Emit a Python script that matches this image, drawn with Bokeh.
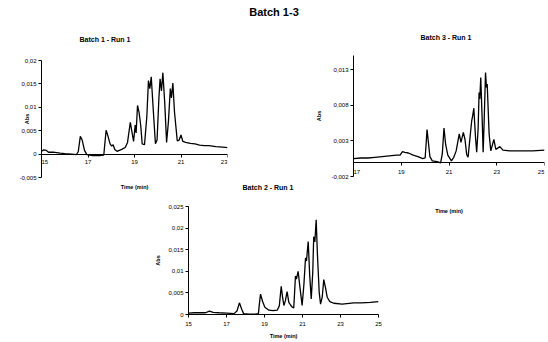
from bokeh.plotting import figure
from bokeh.layouts import column, row
from bokeh.models import Div, Spacer, LinearAxis, FixedTicker, Range1d, LabelSet, ColumnDataSource
from bokeh.core.properties import value
from bokeh.embed import file_html
from bokeh.resources import INLINE

FONT = "Liberation Sans"

main_title = "Batch 1-3"

# ---- Batch 1 - Run 1 ----
b1_title = "Batch 1 - Run 1"
b1_time = [15.0, 15.1, 15.2, 15.3, 15.5, 15.8, 16.0, 16.3, 16.5, 16.58, 16.67, 16.75, 16.85, 16.95,
           17.2, 17.5, 17.68, 17.72, 17.78, 17.85, 17.95, 18.02, 18.08, 18.15, 18.25, 18.45, 18.6,
           18.7, 18.82, 18.9, 18.96, 19.03, 19.07, 19.13, 19.2, 19.27, 19.33, 19.43, 19.53, 19.6,
           19.66, 19.72, 19.8, 19.9, 19.97, 20.05, 20.1, 20.16, 20.22, 20.3, 20.38, 20.46, 20.54,
           20.59, 20.65, 20.72, 20.84, 20.92, 21.0, 21.08, 21.2, 21.4, 21.6, 21.8, 22.0, 22.2,
           22.5, 22.8, 23.0]
b1_abs = [0.0006, 0.0009, 0.0008, 0.0004, 0.0004, 0.0002, 0.0001, 0.0, -0.0001, 0.0005, 0.0038,
          0.0030, 0.0008, -0.0001, -0.0003, -0.0003, -0.0002, 0.0020, 0.0051, 0.0040, 0.0022,
          0.0017, 0.0020, 0.0010, 0.0006, 0.0010, 0.0014, 0.0025, 0.0068, 0.0045, 0.0027, 0.0062,
          0.0045, 0.0104, 0.0088, 0.0060, 0.0022, 0.0020, 0.0080, 0.0157, 0.0140, 0.0165, 0.0100,
          0.0022, 0.0030, 0.0120, 0.0161, 0.0135, 0.0174, 0.0110, 0.0025, 0.0070, 0.0140, 0.0120,
          0.0152, 0.0090, 0.0028, 0.0030, 0.0041, 0.0027, 0.0025, 0.0023, 0.0022, 0.0019, 0.0018,
          0.0018, 0.0016, 0.0015, 0.0014]
b1_xticks = [15, 17, 19, 21, 23]
b1_xlabels = ["15", "17", "19", "21", "23"]
b1_yticks = [-0.005, 0, 0.005, 0.01, 0.015, 0.02]
b1_ylabels = ["-0,005", "0", "0,005", "0,01", "0,015", "0,02"]

# ---- Batch 3 - Run 1 ----
b3_title = "Batch 3 - Run 1"
b3_time = [17.0, 17.3, 17.6, 17.9, 18.2, 18.5, 18.8, 18.95, 19.05, 19.15, 19.3, 19.5, 19.7, 19.9,
           20.0, 20.04, 20.08, 20.13, 20.2, 20.3, 20.5, 20.65, 20.72, 20.79, 20.86, 20.95, 21.1,
           21.2, 21.3, 21.43, 21.5, 21.6, 21.67, 21.74, 21.8, 21.88, 21.95, 21.99, 22.04, 22.11,
           22.16, 22.22, 22.26, 22.29, 22.33, 22.39, 22.43, 22.47, 22.53, 22.57, 22.6, 22.68,
           22.75, 22.88, 22.96, 23.13, 23.26, 23.54, 24.0, 24.5, 25.0]
b3_abs = [0.0005, 0.0006, 0.0006, 0.0007, 0.0008, 0.0009, 0.0010, 0.0010, 0.0015, 0.0014, 0.0013,
          0.0010, 0.0008, 0.0005, 0.0006, 0.0025, 0.0046, 0.0030, 0.0008, 0.0002, 0.0001, -0.0001,
          0.0012, 0.0048, 0.0025, 0.0010, 0.0002, 0.0007, 0.0016, 0.0040, 0.0028, 0.0042, 0.0032,
          0.0011, 0.0007, 0.0035, 0.0058, 0.0065, 0.0076, 0.0035, 0.0014, 0.0047, 0.0098, 0.0089,
          0.0119, 0.0060, 0.0014, 0.0055, 0.0126, 0.0105, 0.0110, 0.0040, 0.0016, 0.0032, 0.0018,
          0.0022, 0.0017, 0.0016, 0.0016, 0.0016, 0.0017]
b3_xticks = [17, 19, 21, 23, 25]
b3_xlabels = ["17", "19", "21", "23", "25"]
b3_yticks = [-0.002, 0.003, 0.008, 0.013]
b3_ylabels = ["-0,002", "0,003", "0,008", "0,013"]

# ---- Batch 2 - Run 1 ----
b2_title = "Batch 2 - Run 1"
b2_time = [15.0, 15.3, 15.6, 15.9, 16.1, 16.3, 16.6, 17.0, 17.4, 17.55, 17.68, 17.8, 17.9, 18.2,
           18.5, 18.68, 18.72, 18.79, 18.9, 19.02, 19.23, 19.45, 19.67, 19.78, 19.88, 19.95, 20.02,
           20.1, 20.19, 20.28, 20.37, 20.46, 20.54, 20.63, 20.68, 20.77, 20.86, 20.98, 21.07,
           21.16, 21.21, 21.3, 21.38, 21.46, 21.54, 21.59, 21.65, 21.72, 21.79, 21.88, 21.95,
           22.04, 22.12, 22.21, 22.3, 22.44, 22.65, 23.09, 23.7, 24.1, 24.58, 25.0]
b2_abs = [0.0003, 0.0004, 0.0004, 0.0004, 0.0008, 0.0005, 0.0004, 0.0003, 0.0002, 0.0008, 0.0027,
          0.0012, 0.0002, 0.0001, 0.0001, 0.0002, 0.0020, 0.0047, 0.0030, 0.0017, 0.0010, 0.0009,
          0.0010, 0.0020, 0.0065, 0.0040, 0.0021, 0.0032, 0.0053, 0.0028, 0.0022, 0.0017, 0.0015,
          0.0089, 0.0082, 0.0100, 0.0065, 0.0021, 0.0067, 0.0131, 0.0124, 0.0169, 0.0090, 0.0036,
          0.0098, 0.0180, 0.0168, 0.0219, 0.0135, 0.0051, 0.0024, 0.0041, 0.0081, 0.0062, 0.0040,
          0.0030, 0.0026, 0.0024, 0.0027, 0.0027, 0.0028, 0.0030]
b2_xticks = [15, 17, 19, 21, 23, 25]
b2_xlabels = ["15", "17", "19", "21", "23", "25"]
b2_yticks = [0, 0.005, 0.01, 0.015, 0.02, 0.025]
b2_ylabels = ["0", "0,005", "0,01", "0,015", "0,02", "0,025"]


def style_axis(ax):
    ax.axis_line_color = "black"
    ax.axis_line_width = 1
    ax.major_tick_line_color = "black"
    ax.major_tick_in = 0
    ax.major_tick_out = 3
    ax.minor_tick_line_color = None
    ax.major_label_text_font = FONT
    ax.major_label_text_font_size = "6px"
    ax.major_label_text_color = "black"
    ax.major_label_standoff = 2
    ax.axis_label_text_font = FONT
    ax.axis_label_text_font_size = "5.5px"
    ax.axis_label_text_font_style = "bold"
    ax.axis_label_text_color = "black"


def make_chart(title, t, a, xr, yr, xticks, xlabels, yticks, ylabels,
               w, h, mb, x_at_zero, title_standoff, title_offset,
               xlabel_standoff, ylabel_standoff, xtick_label_offset=-4, xtick_standoff=2):
    p = figure(width=w, height=h, x_range=Range1d(*xr), y_range=Range1d(*yr),
               output_backend="svg", toolbar_location=None,
               x_axis_location=None, y_axis_location="left",
               min_border_left=mb[0], min_border_right=mb[1],
               min_border_top=mb[2], min_border_bottom=mb[3],
               background_fill_color=None, border_fill_color=None,
               outline_line_color=None, frame_align=False)
    p.grid.visible = False
    p.title.text = title
    p.title.align = "left"
    p.title.offset = title_offset
    p.title.text_font = FONT
    p.title.text_font_size = "7px"
    p.title.text_font_style = "bold"
    p.title.text_color = "black"
    p.title.standoff = title_standoff

    ya = p.yaxis[0]
    ya.ticker = FixedTicker(ticks=yticks)
    ya.major_label_overrides = {k: v for k, v in zip(yticks, ylabels)}
    ya.axis_label = "Abs"
    style_axis(ya)
    ya.axis_label_standoff = ylabel_standoff

    if x_at_zero:
        lab = LinearAxis(ticker=FixedTicker(ticks=[]), axis_label="Time (min)")
        style_axis(lab)
        lab.axis_line_color = None
        lab.major_tick_line_color = None
        lab.axis_label_standoff = xlabel_standoff
        p.add_layout(lab, "below")
        xa = LinearAxis(ticker=FixedTicker(ticks=xticks), fixed_location=0)
        style_axis(xa)
        xa.major_label_text_color = None
        p.add_layout(xa, "below")
        n = len(xticks)
        aligns = ["left"] + ["center"] * (n - 2) + ["right"]
        src = ColumnDataSource(dict(x=xticks, y=[0] * n, text=xlabels, align=aligns))
        ls = LabelSet(x="x", y="y", text="text", source=src, text_align="align",
                      text_baseline="top", y_offset=xtick_label_offset,
                      text_font=value(FONT), text_font_size=value("6px"),
                      text_color="black")
        p.add_layout(ls)
    else:
        xa = LinearAxis(ticker=FixedTicker(ticks=xticks), axis_label="Time (min)")
        xa.major_label_overrides = {k: v for k, v in zip(xticks, xlabels)}
        style_axis(xa)
        xa.major_label_standoff = xtick_standoff
        xa.axis_label_standoff = xlabel_standoff
        p.add_layout(xa, "below")

    p.line(t, a, line_color="black", line_width=1.3)
    return p


p1 = make_chart(b1_title, b1_time, b1_abs, (15, 23), (-0.005, 0.02), b1_xticks, b1_xlabels,
                b1_yticks, b1_ylabels, w=227, h=216, mb=(33, 8, 60, 39), x_at_zero=True,
                title_standoff=36, title_offset=38, xlabel_standoff=6, ylabel_standoff=-14,
                xtick_label_offset=-6)
p3 = make_chart(b3_title, b3_time, b3_abs, (17, 25), (-0.002, 0.015), b3_xticks, b3_xlabels,
                b3_yticks, b3_ylabels, w=246, h=216, mb=(53, 2, 55, 40), x_at_zero=True,
                title_standoff=29, title_offset=67, xlabel_standoff=31, ylabel_standoff=6,
                xtick_label_offset=-8)
p2 = make_chart(b2_title, b2_time, b2_abs, (15, 25), (0, 0.025), b2_xticks, b2_xlabels,
                b2_yticks, b2_ylabels, w=245, h=184, mb=(38, 17, 49, 25), x_at_zero=False,
                title_standoff=32, title_offset=54, xlabel_standoff=4, ylabel_standoff=4,
                xtick_standoff=4)
p2.margin = (-59, 0, 0, 142)

head = Div(text='<div style="width:532px;text-align:center;font-family:\'Liberation Sans\';'
                'font-weight:bold;font-size:11px;line-height:12px;">' + main_title + '</div>',
           width=532, height=18, margin=(0, 0, 0, 0))

top_row = row(p1, Spacer(width=65, height=216), p3)
top_row.margin = (-22, 0, 0, 0)

layout = column(head, top_row, p2)
layout.margin = (4, 0, 0, 8)

open("out.html", "w").write(file_html(layout, INLINE))
